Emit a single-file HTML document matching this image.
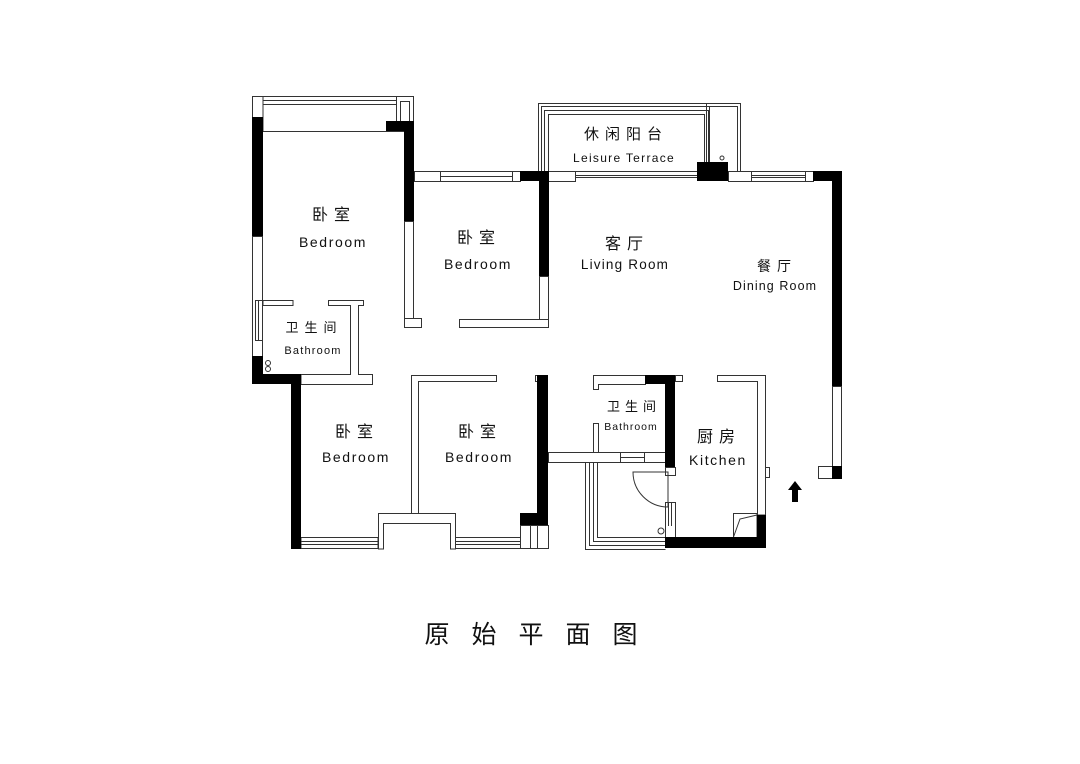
<!DOCTYPE html>
<html><head><meta charset="utf-8"><style>
html,body{margin:0;padding:0;background:#fff;}
svg{display:block}
text{font-family:"Liberation Sans","Noto Sans CJK SC",sans-serif;fill:#111;text-anchor:middle}
.cn{font-family:"Noto Sans CJK SC",sans-serif}
</style></head><body>
<svg width="1080" height="764" viewBox="0 0 1080 764" xmlns="http://www.w3.org/2000/svg">
<g fill="#fff" stroke="#333" stroke-width="1">
<!-- top-left balcony -->
<rect x="252.5" y="96.5" width="161" height="35"/>
<line x1="263" y1="100.5" x2="396" y2="100.5"/><line x1="263" y1="104.5" x2="396" y2="104.5"/>
<line x1="263" y1="96.5" x2="263" y2="131"/>
<rect x="396.5" y="96.5" width="17" height="25"/><rect x="400.5" y="101.5" width="9" height="20"/>
<!-- left walls -->
<rect x="252.5" y="236.5" width="10" height="147"/>
<rect x="255.5" y="300.5" width="7" height="40"/><line x1="258.5" y1="300" x2="258.5" y2="340"/>
<!-- bedroom1 right lower -->
<rect x="404.5" y="221.5" width="9" height="106"/>
<path d="M404.5 318.5 H421.5 V327.5 H404.5 Z"/>
<!-- bathroom -->
<rect x="263" y="300.5" width="30" height="5"/>
<path d="M328.5 300.5 H363.5 V305.5 H358.5 V374.5 H372.5 V384.5 H301 V374.5 H350.5 V305.5 H328.5 Z"/>
<circle cx="268" cy="363" r="2.5"/><circle cx="268" cy="369" r="2.5"/>
<!-- bedroom2 -->
<rect x="414.5" y="171.5" width="106" height="10"/>
<rect x="440.5" y="171.5" width="72" height="10"/><line x1="440" y1="176.5" x2="512" y2="176.5"/>
<rect x="539.5" y="276.5" width="9" height="51"/>
<rect x="459.5" y="319.5" width="89" height="8"/>
<!-- terrace -->
<rect x="538.5" y="103.5" width="202" height="68"/>
<rect x="541.5" y="106.5" width="196" height="65"/>
<rect x="544.5" y="110.5" width="164" height="61"/>
<rect x="548.5" y="114.5" width="156" height="57"/>
<line x1="706.5" y1="103" x2="706.5" y2="171"/><line x1="709.5" y1="106" x2="709.5" y2="171"/>
<circle cx="722" cy="158" r="2"/>
<!-- living top -->
<rect x="548.5" y="171.5" width="27" height="10"/>
<line x1="575" y1="175.5" x2="697" y2="175.5"/><line x1="575" y1="177.5" x2="697" y2="177.5"/>
<rect x="728.5" y="171.5" width="85" height="10"/>
<line x1="751.5" y1="171" x2="751.5" y2="181"/><line x1="805.5" y1="171" x2="805.5" y2="181"/>
<line x1="751" y1="175.5" x2="805" y2="175.5"/><line x1="751" y1="177.5" x2="805" y2="177.5"/>
<rect x="832.5" y="386.5" width="9" height="80"/>
<rect x="818.5" y="466.5" width="14" height="12"/>
<!-- bottom bedrooms -->
<rect x="301" y="537.5" width="77" height="11"/>
<line x1="301" y1="541.5" x2="378" y2="541.5"/><line x1="301" y1="544.5" x2="378" y2="544.5"/>
<path d="M378.5 549 V513.5 H455.5 V549 H450.5 V523.5 H383.5 V549 Z"/>
<path d="M411.5 513 V375.5 H496.5 V381.5 H418.5 V513"/>
<rect x="455.5" y="537.5" width="65" height="11"/>
<line x1="455" y1="541.5" x2="520" y2="541.5"/><line x1="455" y1="544.5" x2="520" y2="544.5"/>
<rect x="520.5" y="525.5" width="28" height="23"/><line x1="530.5" y1="525" x2="530.5" y2="549"/><line x1="537.5" y1="525" x2="537.5" y2="549"/>
<rect x="535.5" y="375.5" width="4" height="6"/>
<!-- corridor wall -->
<rect x="548.5" y="452.5" width="117" height="10"/>
<rect x="620.5" y="452.5" width="24" height="10"/><line x1="620" y1="457.5" x2="645" y2="457.5"/>
<!-- bathroom2 -->
<path d="M593.5 375.5 H645.5 V384.5 H598.5 V389.5 H593.5 Z"/>
<rect x="675.5" y="375.5" width="7" height="6"/>
<rect x="593.5" y="423.5" width="5" height="29"/>
<!-- lower balcony -->
<path d="M585.5 462.5 V549.5 H665.5 M589.5 462.5 V545.5 H665.5 M593.5 462.5 V541.5 H665.5 M597.5 462.5 V537.5 H665.5" fill="none"/>
<rect x="665.5" y="467.5" width="10" height="8"/>
<rect x="665.5" y="502.5" width="10" height="35"/><line x1="668.5" y1="502" x2="668.5" y2="526"/><line x1="671.5" y1="502" x2="671.5" y2="526"/>
<path d="M633 472 H668 V507 A35 35 0 0 1 633 472 Z" fill="none"/>
<circle cx="661" cy="531" r="3"/>
<!-- kitchen -->
<path d="M717.5 375.5 H765.5 V515 H757.5 V381.5 H717.5 Z"/>
<rect x="765.5" y="467.5" width="4" height="10"/>
<path d="M733.5 537 V513.5 H757 V537 M733.5 537 L740 519 L757 515" fill="none"/>
</g>
<g fill="#000">
<rect x="252" y="117" width="11" height="119"/>
<rect x="386" y="121" width="28" height="10"/>
<rect x="404" y="131" width="10" height="90"/>
<rect x="252" y="356" width="11" height="28"/>
<rect x="252" y="374" width="49" height="10"/>
<rect x="291" y="374" width="10" height="175"/>
<rect x="520" y="171" width="29" height="10"/>
<rect x="539" y="171" width="10" height="105"/>
<rect x="697" y="162" width="31" height="19"/>
<rect x="813" y="171" width="29" height="10"/>
<rect x="832" y="171" width="10" height="215"/>
<rect x="832" y="466" width="10" height="13"/>
<rect x="537" y="375" width="11" height="150"/>
<rect x="520" y="513" width="28" height="12"/>
<rect x="645" y="375" width="30" height="9"/>
<rect x="665" y="375" width="10" height="92"/>
<rect x="665" y="537" width="101" height="11"/>
<rect x="757" y="515" width="9" height="33"/>
<path d="M795 481 L788 490 H792 V502 H798 V490 H802 Z"/>
</g>
<g>
<text x="334" y="220" font-size="16" class="cn" letter-spacing="6">卧室</text>
<text x="333" y="247" font-size="14" letter-spacing="1.6">Bedroom</text>
<text x="479" y="243" font-size="16" class="cn" letter-spacing="6">卧室</text>
<text x="478" y="269" font-size="14" letter-spacing="1.6">Bedroom</text>
<text x="314" y="332" font-size="13" class="cn" letter-spacing="6">卫生间</text>
<text x="313" y="354" font-size="11" letter-spacing="1.2">Bathroom</text>
<text x="626" y="139" font-size="15" class="cn" letter-spacing="6">休闲阳台</text>
<text x="624" y="162" font-size="12" letter-spacing="1.3">Leisure Terrace</text>
<text x="627" y="249" font-size="16" class="cn" letter-spacing="6">客厅</text>
<text x="625" y="269" font-size="13.5" letter-spacing="1.2">Living Room</text>
<text x="777" y="271" font-size="14" class="cn" letter-spacing="6">餐厅</text>
<text x="775" y="290" font-size="12.5" letter-spacing="1.1">Dining Room</text>
<text x="357" y="437" font-size="16" class="cn" letter-spacing="6">卧室</text>
<text x="356" y="462" font-size="14" letter-spacing="1.6">Bedroom</text>
<text x="480" y="437" font-size="16" class="cn" letter-spacing="6">卧室</text>
<text x="479" y="462" font-size="14" letter-spacing="1.6">Bedroom</text>
<text x="634" y="411" font-size="13" class="cn" letter-spacing="5">卫生间</text>
<text x="631" y="430" font-size="10.5" letter-spacing="1">Bathroom</text>
<text x="719" y="442" font-size="16" class="cn" letter-spacing="6">厨房</text>
<text x="718" y="465" font-size="14" letter-spacing="1.6">Kitchen</text>
<text x="542" y="643" font-size="25" class="cn" letter-spacing="22">原始平面图</text>
</g>
</svg>
</body></html>
